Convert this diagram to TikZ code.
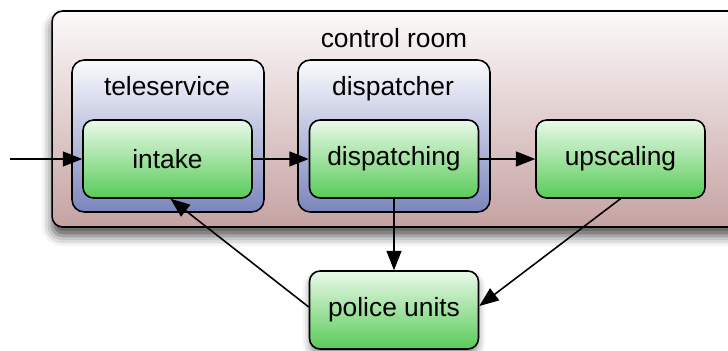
\documentclass[tikz,border=0pt]{standalone}
\usepackage{fontspec}
\setmainfont{Liberation Sans}
\usetikzlibrary{arrows.meta,shadows.blur}

\definecolor{roomtop}{HTML}{FCFAFA}
\definecolor{roombot}{HTML}{C6A2A2}
\definecolor{unittop}{HTML}{FAFBFE}
\definecolor{unitbot}{HTML}{7A85BC}
\definecolor{tasktop}{HTML}{EAF9EA}
\definecolor{taskbot}{HTML}{58CB58}

\tikzset{
  every node/.style={font=\fontsize{15}{18}\selectfont, text=black},
  room/.style={draw=black, line width=0.9pt, rounded corners=6pt,
    top color=roomtop, bottom color=roombot,
    blur shadow={shadow xshift=0pt, shadow yshift=-5pt, shadow blur radius=6pt, shadow opacity=70}},
  unit/.style={draw=black, line width=0.9pt, rounded corners=7pt,
    top color=unittop, bottom color=unitbot,
    minimum width=3.84cm, minimum height=3.04cm, inner sep=0pt},
  task/.style={draw=black, line width=0.9pt, rounded corners=6pt,
    top color=tasktop, bottom color=taskbot,
    minimum width=3.38cm, minimum height=1.56cm, inner sep=0pt},
  lifted/.style={blur shadow={shadow xshift=0pt, shadow yshift=-3pt, shadow blur radius=4pt, shadow opacity=45}},
  caption/.style={inner sep=0pt, anchor=base},
  arr/.style={draw=black, line width=0.9pt, -{Triangle[length=11pt, width=8.5pt]}},
}

\begin{document}
\begin{tikzpicture}[x=0.02cm, y=-0.02cm]
  \useasboundingbox (0,0) rectangle (728,351);

  % control room container (runs past the right edge)
  \node[room, minimum width=14.16cm, minimum height=4.32cm, inner sep=0pt] (room) at (406,119) {};
  \node[caption] (roomlabel) at (394,48) {control room};

  % teleservice and dispatcher units
  \node[unit] (tele) at (168,136) {};
  \node[caption] (telelabel) at (167,96) {teleservice};
  \node[unit] (disp) at (394,136) {};
  \node[caption] (displabel) at (393,96) {dispatcher};

  % tasks
  \node[task] (intake) at (167.5,159) {intake};
  \node[task] (dispatching) at (394,159) {dispatching};
  \node[task] (upscaling) at (620.5,159) {upscaling};
  \node[task, lifted] (police) at (394,310) {police units};

  \coordinate (incoming) at (10,159);

  % flows
  \draw[arr] (incoming) -- (intake.west);
  \draw[arr] (intake) -- (dispatching);
  \draw[arr] (dispatching) -- (upscaling);
  \draw[arr] (dispatching) -- (police);
  \draw[arr] (upscaling.south) -- ([yshift=0.08cm]police.east);
  \draw[arr] ([yshift=0.06cm]police.west) -- ([xshift=0.06cm]intake.south);
\end{tikzpicture}
\end{document}
